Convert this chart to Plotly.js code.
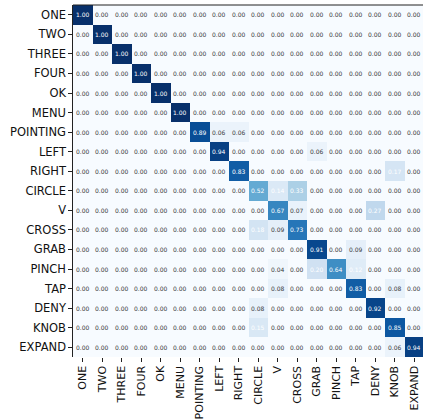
<!DOCTYPE html>
<html>
<head>
<meta charset="utf-8">
<script src="https://cdn.plot.ly/plotly-3.0.1.min.js"></script>
<style>
  html, body { margin: 0; padding: 0; background: #ffffff; overflow: hidden; }
  #chart { width: 425px; height: 419px; }
</style>
</head>
<body>
<div id="chart"></div>
<script>
// Gesture classes (true label on rows, predicted label on columns)
const classes = ["ONE", "TWO", "THREE", "FOUR", "OK", "MENU", "POINTING", "LEFT", "RIGHT",
                 "CIRCLE", "V", "CROSS", "GRAB", "PINCH", "TAP", "DENY", "KNOB", "EXPAND"];

// Normalised confusion matrix, one row per true class
const rowONE      = [1.00,0,0,0,0,0,0,0,0,0,0,0,0,0,0,0,0,0];
const rowTWO      = [0,1.00,0,0,0,0,0,0,0,0,0,0,0,0,0,0,0,0];
const rowTHREE    = [0,0,1.00,0,0,0,0,0,0,0,0,0,0,0,0,0,0,0];
const rowFOUR     = [0,0,0,1.00,0,0,0,0,0,0,0,0,0,0,0,0,0,0];
const rowOK       = [0,0,0,0,1.00,0,0,0,0,0,0,0,0,0,0,0,0,0];
const rowMENU     = [0,0,0,0,0,1.00,0,0,0,0,0,0,0,0,0,0,0,0];
const rowPOINTING = [0,0,0,0,0,0,0.89,0.06,0.06,0,0,0,0,0,0,0,0,0];
const rowLEFT     = [0,0,0,0,0,0,0,0.94,0,0,0,0,0.06,0,0,0,0,0];
const rowRIGHT    = [0,0,0,0,0,0,0,0,0.83,0,0,0,0,0,0,0,0.17,0];
const rowCIRCLE   = [0,0,0,0,0,0,0,0,0,0.52,0.14,0.33,0,0,0,0,0,0];
const rowV        = [0,0,0,0,0,0,0,0,0,0,0.67,0.07,0,0,0,0.27,0,0];
const rowCROSS    = [0,0,0,0,0,0,0,0,0,0.18,0.09,0.73,0,0,0,0,0,0];
const rowGRAB     = [0,0,0,0,0,0,0,0,0,0,0,0,0.91,0,0.09,0,0,0];
const rowPINCH    = [0,0,0,0,0,0,0,0,0,0,0.04,0,0.20,0.64,0.12,0,0,0];
const rowTAP      = [0,0,0,0,0,0,0,0,0,0,0.08,0,0,0,0.83,0,0.08,0];
const rowDENY     = [0,0,0,0,0,0,0,0,0,0.08,0,0,0,0,0,0.92,0,0];
const rowKNOB     = [0,0,0,0,0,0,0,0,0,0.15,0,0,0,0,0,0,0.85,0];
const rowEXPAND   = [0,0,0,0,0,0,0,0,0,0,0,0,0,0,0,0,0.06,0.94];

const matrix = [rowONE, rowTWO, rowTHREE, rowFOUR, rowOK, rowMENU, rowPOINTING, rowLEFT,
                rowRIGHT, rowCIRCLE, rowV, rowCROSS, rowGRAB, rowPINCH, rowTAP, rowDENY,
                rowKNOB, rowEXPAND];

// Sequential blue palette
const blues = [
  [0.000, "#f7fbff"], [0.125, "#deebf7"], [0.250, "#c6dbef"],
  [0.375, "#9ecae1"], [0.500, "#6baed6"], [0.625, "#4292c6"],
  [0.750, "#2171b5"], [0.875, "#08519c"], [1.000, "#08306b"]
];

const FONT = "DejaVu Sans, Arial, sans-serif";

const heat = {
  type: "heatmap",
  x: classes,
  y: classes,
  z: matrix,
  zmin: 0,
  zmax: 1,
  colorscale: blues,
  showscale: false,
  hoverinfo: "skip"
};

// Cell value labels: light text on the shaded cells, dark text elsewhere
const labels = [];
matrix.forEach((row, i) => {
  row.forEach((v, j) => {
    labels.push({
      x: classes[j],
      y: classes[i],
      xref: "x",
      yref: "y",
      text: v.toFixed(2),
      showarrow: false,
      font: { family: FONT, size: 6, color: v > 0.1 ? "#ffffff" : "#3a3a3a" }
    });
  });
});

const layout = {
  width: 425,
  height: 419,
  margin: { l: 73, r: 1, t: 5, b: 62 },
  paper_bgcolor: "#ffffff",
  plot_bgcolor: "#ffffff",
  font: { family: FONT, color: "#000000" },
  xaxis: {
    type: "category",
    tickangle: -90,
    ticks: "outside",
    ticklen: 3.5,
    tickwidth: 1,
    tickcolor: "#222222",
    tickfont: { family: FONT, size: 11, color: "#111111" },
    showgrid: false,
    zeroline: false,
    showline: false
  },
  yaxis: {
    type: "category",
    autorange: "reversed",
    ticks: "outside",
    ticklen: 3.5,
    tickwidth: 1,
    tickcolor: "#222222",
    tickfont: { family: FONT, size: 11.5, color: "#111111" },
    showgrid: false,
    zeroline: false,
    showline: true,
    linecolor: "#222222",
    linewidth: 1.2
  },
  shapes: [{
    type: "line", xref: "paper", yref: "paper",
    x0: 0, x1: 1, y0: 1, y1: 1,
    line: { color: "#222222", width: 1.2 }
  }],
  annotations: labels
};

Plotly.newPlot("chart", [heat], layout, { displayModeBar: false, staticPlot: true });
</script>
</body>
</html>
